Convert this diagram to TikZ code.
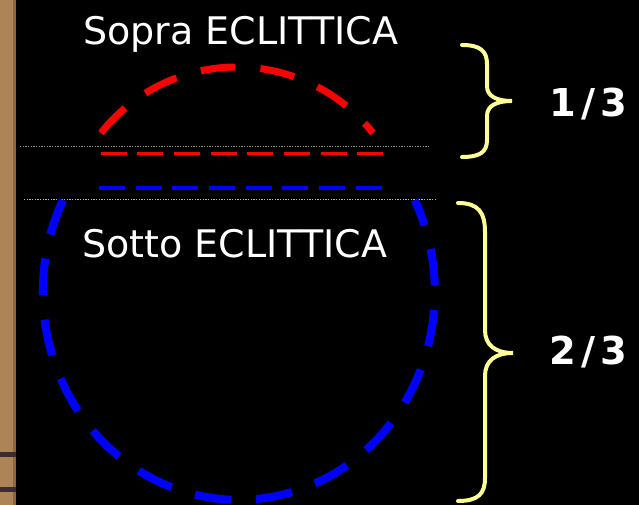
\documentclass[tikz,border=0pt]{standalone}
\usepackage{fontspec}
\setmainfont{DejaVu Sans}
\newfontfamily\boldfont{DejaVu Sans Bold}
\definecolor{bracey}{RGB}{255,255,150}
\definecolor{pureblue}{RGB}{0,0,255}
\definecolor{eclc}{RGB}{150,150,105}
\definecolor{eclb}{RGB}{195,195,150}
\definecolor{stripc}{RGB}{172,132,86}
\definecolor{stripd}{RGB}{140,104,66}
\definecolor{stripb}{RGB}{60,42,50}
\begin{document}
\begin{tikzpicture}[x=0.75pt,y=0.75pt,
  lbl/.style={text=white,inner sep=0pt,anchor=base west,font=\fontsize{28.5pt}{30pt}\selectfont},
  frac/.style={text=white,inner sep=0pt,anchor=base west,font=\fontsize{28.8pt}{30pt}\boldfont},
  bracecol/.style={draw=bracey,line width=3pt,line cap=round},
  arcred/.style={draw=red,line width=5.25pt,dash pattern=on 26pt off 19pt},
  arcblue/.style={draw=pureblue,line width=6pt,dash pattern=on 27.5pt off 18.5pt},
  hred/.style={draw=red,line width=2.5pt,dash pattern=on 19.5pt off 8pt},
  hblue/.style={draw=pureblue,line width=2.5pt,dash pattern=on 19.5pt off 8pt},
  ecl/.style={line width=0.9pt,dash pattern=on 1pt off 1pt}]
\useasboundingbox (0,0) rectangle (639,505);
\fill[black] (0,0) rectangle (639,505);
% left textured strip
\fill[fill=stripc] (0,0) rectangle (16,505);
\fill[fill=stripd] (13,0) rectangle (16,505);
\fill[fill=stripb] (0,48) rectangle (16,53);
\fill[fill=stripb] (0,13) rectangle (16,18);
% ecliptic dotted lines
\coordinate (e1a) at (20,358.3);
\coordinate (e1b) at (430,358.3);
\coordinate (e2a) at (24,305.7);
\coordinate (e2b) at (435,305.7);
\draw[ecl,draw=eclc] (e1a) -- (e1b);
\draw[ecl,draw=eclb] (e2a) -- (e2b);
% red arc (above ecliptic)
\coordinate (rstart) at (101,372);
\draw[arcred] (rstart) arc[start angle=141.8, end angle=38.2, radius=173];
% horizontal dashed lines
\coordinate (hr1) at (100.7,351.7);
\coordinate (hr2) at (383,351.7);
\coordinate (hb1) at (99,317);
\coordinate (hb2) at (382,317);
\draw[hred] (hr1) -- (hr2);
\draw[hblue] (hb1) -- (hb2);
% blue ellipse (below ecliptic)
\coordinate (bstart) at (63,305);
\draw[arcblue] (bstart) arc[start angle=153.8, end angle=386.2, x radius=196, y radius=208];
% labels
\node[lbl] (sopra) at (83,460) {Sopra ECLITTICA};
\node[lbl] (sotto) at (82,247) {Sotto ECLITTICA};
% braces
\draw[bracecol] (462,460) .. controls (480,460) and (487,454) .. (487,441) -- (487,419)
  .. controls (487,409) and (496,404) .. (512,404)
  .. controls (496,404) and (487,399) .. (487,389) -- (487,365)
  .. controls (487,353) and (480,348) .. (462,348);
\draw[bracecol] (458,302) .. controls (478,302) and (485,293) .. (485,273) -- (485,175)
  .. controls (485,160) and (495,152) .. (513,152)
  .. controls (495,152) and (485,144) .. (485,129) -- (485,27)
  .. controls (485,11) and (478,4) .. (458,4);
\node[frac] (f1) at (549,388) {1\kern4pt/\kern4pt3};
\node[frac] (f2) at (549,140) {2\kern4pt/\kern4pt3};
\end{tikzpicture}
\end{document}
